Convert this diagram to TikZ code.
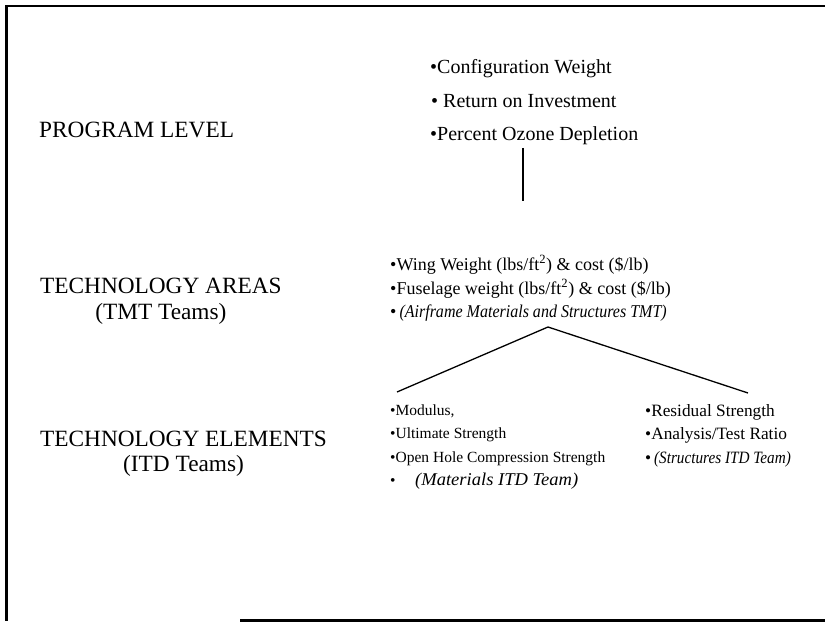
\documentclass[tikz,border=0pt]{standalone}
\usepackage{fontspec}
\setmainfont{Liberation Serif}
\tikzset{
  lvl/.style={anchor=base west, inner sep=0pt, font=\fontsize{23.3}{28}\selectfont},
  lvlsub/.style={anchor=base, inner sep=0pt, font=\fontsize{23.3}{28}\selectfont},
  progitem/.style={anchor=base west, inner sep=0pt, font=\fontsize{20}{24}\selectfont},
  tmtitem/.style={anchor=base west, inner sep=0pt, font=\fontsize{18}{22}\selectfont},
  matitem/.style={anchor=base west, inner sep=0pt, font=\fontsize{15.5}{19}\selectfont},
  stritem/.style={anchor=base west, inner sep=0pt, font=\fontsize{17.3}{21}\selectfont},
  link/.style={line width=1.3pt},
  frameline/.style={line width=2.4pt}
}
\begin{document}
\begin{tikzpicture}[x=1pt,y=-1pt]
\useasboundingbox (0,0) rectangle (825,623);
% frame
\draw[frameline] (825,6) -- (6.5,6) -- (6.5,621);
\draw[frameline] (240,620.5) -- (825,620.5);

% left level labels
\node[lvl] (prog) at (39,138) {PROGRAM LEVEL};
\node[lvl] (areas) at (40,293) {TECHNOLOGY AREAS};
\node[lvlsub] (tmtteams) at ([yshift=-26pt]areas.base) {(TMT Teams)};
\node[lvl] (elems) at (40,446) {TECHNOLOGY ELEMENTS};
\node[lvlsub] (itdteams) at ([yshift=-25pt]elems.base) {(ITD Teams)};

% program level items
\node[progitem] (p1) at (430,74) {•Configuration Weight};
\node[progitem] (p2) at (431,108) {• Return on Investment};
\node[progitem] (p3) at (430,141) {•Percent Ozone Depletion};

% technology area items
\node[tmtitem] (t1) at (390,270) {•Wing Weight (lbs/ft\textsuperscript{2}) \& cost (\$/lb)};
\node[tmtitem] (t2) at (390,294) {•Fuselage weight (lbs/ft\textsuperscript{2}) \& cost (\$/lb)};
\node[tmtitem] (t3) at (390,317) {•\,\scalebox{0.89}[1]{\itshape (Airframe Materials and Structures TMT)}};

% technology element items
\node[matitem] (m1) at (390,415) {•Modulus,};
\node[matitem] (m2) at (390,438) {•Ultimate Strength};
\node[matitem] (m3) at (390,462) {•Open Hole Compression Strength};
\node[matitem] (m4) at (390,485) {\makebox[25pt][l]{•}\scalebox{1.03}[1]{\fontsize{18}{22}\selectfont\itshape (Materials ITD Team)}};

\node[stritem] (s1) at (645,416) {•Residual Strength};
\node[stritem] (s2) at (645,439) {•Analysis/Test Ratio};
\node[stritem] (s3) at (645,463) {•\,\scalebox{0.88}[1]{\itshape (Structures ITD Team)}};

% connectors
\coordinate (vtop) at (523,148);
\coordinate (vbot) at (523,201);
\coordinate (apex) at (548,327);
\coordinate (legl) at (397,392);
\coordinate (legr) at (748,393);
\draw[link] (vtop) -- (vbot);
\draw[link] (legl) -- (apex) -- (legr);
\end{tikzpicture}
\end{document}
